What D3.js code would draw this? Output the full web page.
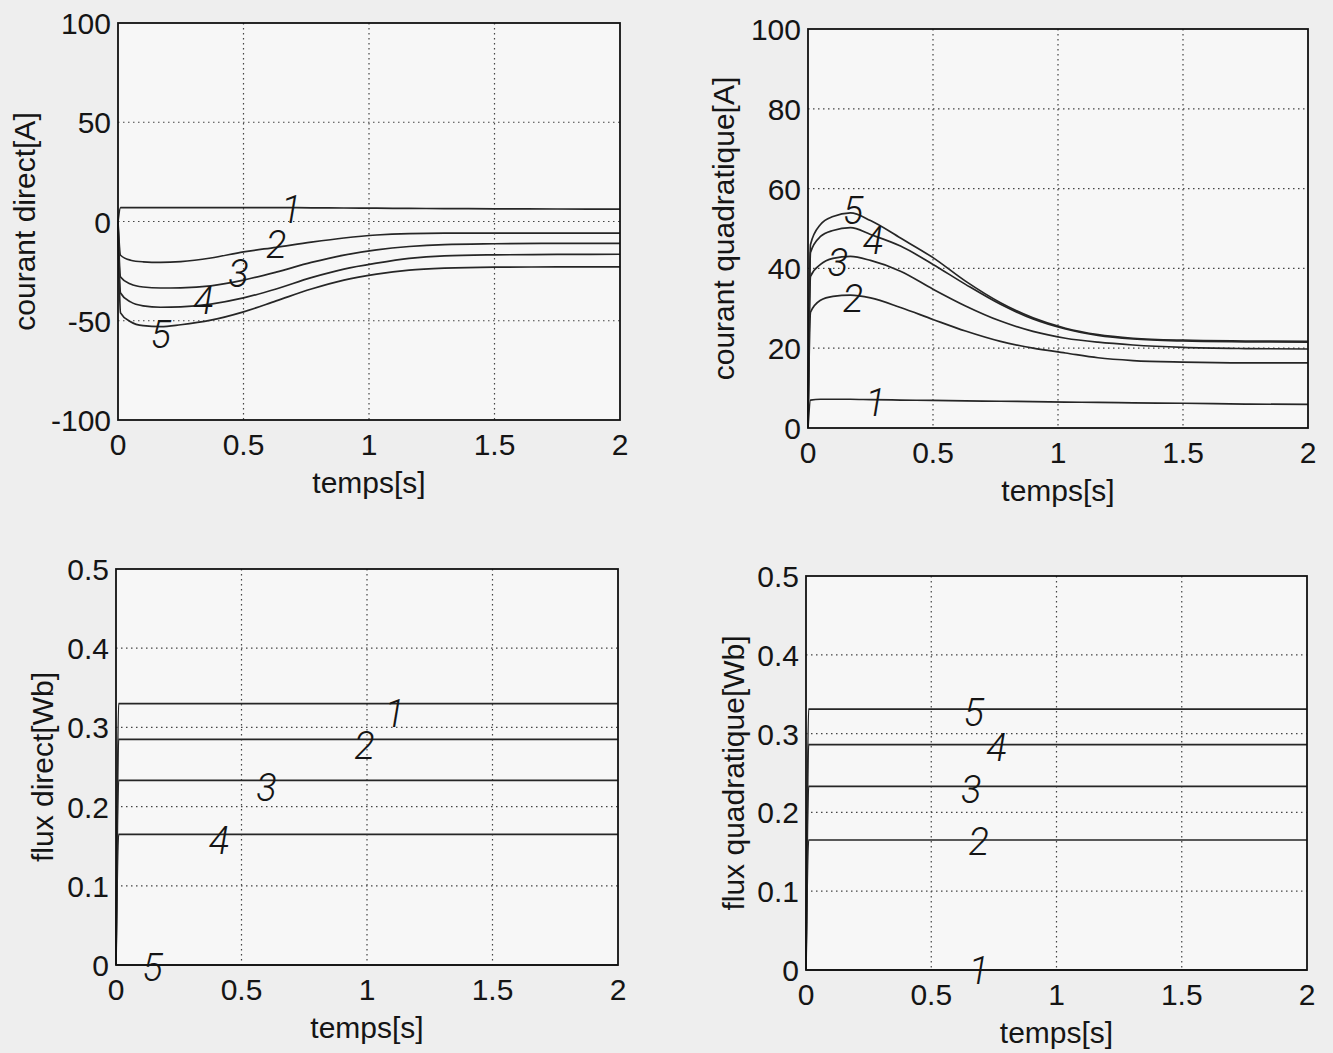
<!DOCTYPE html>
<html>
<head>
<meta charset="utf-8">
<script src="https://cdn.jsdelivr.net/npm/d3@7/dist/d3.min.js"></script>
<style>
  body { margin: 0; background: #eeeeee; }
  svg text { font-family: "Liberation Sans", Arial, sans-serif; fill: #151515; }
</style>
</head>
<body>
<div id="figure"></div>
<script>
// Time samples [s]
var tCourant = [0, 0.01, 0.05, 0.1, 0.17, 0.25, 0.37, 0.5, 0.63, 0.77, 0.9, 1.03, 1.16, 1.3, 1.5, 1.75, 2];
var tFlux = [0, 0.01, 0.5, 1, 1.5, 2];

// courant direct [A], curves 1..5
var id1 = [0, 7, 7, 7, 7, 7, 7, 7, 7, 6.9, 6.8, 6.7, 6.6, 6.5, 6.4, 6.3, 6.2];
var id2 = [0, -17, -19.5, -20.3, -20.6, -20.2, -18.4, -15.3, -13, -10.4, -8.3, -6.8, -6.1, -5.9, -5.9, -5.9, -5.9];
var id3 = [0, -28, -31.5, -33, -33.5, -33.4, -32.4, -29.5, -25.5, -20.6, -16.9, -14.3, -12.6, -11.6, -11.2, -11, -11];
var id4 = [0, -36, -40.5, -42.5, -43.2, -43, -41.6, -38.5, -34, -28.3, -24, -21, -18.6, -17.3, -16.8, -16.6, -16.5];
var id5 = [0, -46, -50.5, -52.5, -53, -52, -49.7, -45.5, -40, -34, -29.5, -26.5, -24.5, -23.5, -23, -22.9, -22.9];

// courant quadratique [A], curves 1..5
var iq1 = [0, 7, 7.2, 7.2, 7.2, 7.1, 7, 6.9, 6.8, 6.7, 6.6, 6.5, 6.4, 6.3, 6.2, 6, 5.9];
var iq2 = [0, 29, 32, 33, 33.3, 32.6, 30.2, 27.2, 24.3, 21.7, 20, 18.8, 17.6, 16.9, 16.5, 16.3, 16.3];
var iq3 = [0, 38, 41, 42.5, 43, 42, 39.3, 34.8, 30.6, 26.8, 24.2, 22.5, 21.5, 20.8, 20.2, 19.9, 19.8];
var iq4 = [0, 44, 48, 49.5, 50.2, 48.5, 45.6, 41, 36, 31, 27.3, 24.8, 23.2, 22.3, 21.8, 21.6, 21.5];
var iq5 = [0, 46, 51, 53, 53.9, 52, 47.6, 42.7, 36.8, 31.4, 27.6, 25, 23.4, 22.5, 22, 21.8, 21.7];

// flux direct [Wb], curves 1..5
var phid1 = [0, 0.33, 0.33, 0.33, 0.33, 0.33];
var phid2 = [0, 0.285, 0.285, 0.285, 0.285, 0.285];
var phid3 = [0, 0.233, 0.233, 0.233, 0.233, 0.233];
var phid4 = [0, 0.165, 0.165, 0.165, 0.165, 0.165];
var phid5 = [0, 0, 0, 0, 0, 0];

// flux quadratique [Wb], curves 1..5
var phiq1 = [0, 0, 0, 0, 0, 0];
var phiq2 = [0, 0.165, 0.165, 0.165, 0.165, 0.165];
var phiq3 = [0, 0.233, 0.233, 0.233, 0.233, 0.233];
var phiq4 = [0, 0.286, 0.286, 0.286, 0.286, 0.286];
var phiq5 = [0, 0.331, 0.331, 0.331, 0.331, 0.331];

// ticks
var xTicks = [0, 0.5, 1, 1.5, 2];
var idTicks = [-100, -50, 0, 50, 100];
var iqTicks = [0, 20, 40, 60, 80, 100];
var fluxTicks = [0, 0.1, 0.2, 0.3, 0.4, 0.5];

// hand written curve numbers (data coordinates: time, value)
var curveNames = ["1", "2", "3", "4", "5"];
var idLabT = [0.69, 0.63, 0.48, 0.34, 0.17];
var idLabV = [6, -11.5, -26, -39.5, -57];
var iqLabT = [0.27, 0.18, 0.12, 0.26, 0.18];
var iqLabV = [6.5, 32.5, 41.5, 47, 54.5];
var phidLabT = [1.11, 0.99, 0.6, 0.41, 0.145];
var phidLabV = [0.318, 0.278, 0.224, 0.158, -0.003];
var phiqLabT = [0.69, 0.69, 0.66, 0.76, 0.67];
var phiqLabV = [0.0, 0.163, 0.229, 0.282, 0.327];

var svg = d3.select("#figure")
    .append("svg")
    .attr("width", 1333)
    .attr("height", 1053);

function drawPanel(box, yDomain, yTicks, yLabel, times, series, labT, labV) {
    var x = d3.scaleLinear().domain([0, 2]).range([box.x0, box.x1]);
    var y = d3.scaleLinear().domain(yDomain).range([box.y1, box.y0]);
    var g = svg.append("g");

    // plot area
    g.append("rect")
        .attr("x", box.x0).attr("y", box.y0)
        .attr("width", box.x1 - box.x0).attr("height", box.y1 - box.y0)
        .attr("fill", "#f7f7f7");

    // dotted grid
    g.selectAll(".vgrid")
        .data(xTicks.slice(1, -1))
        .enter().append("line")
        .attr("x1", d => x(d)).attr("x2", d => x(d))
        .attr("y1", box.y0).attr("y2", box.y1)
        .attr("stroke", "#444").attr("stroke-width", 1.2)
        .attr("stroke-dasharray", "1.5,3.5");
    g.selectAll(".hgrid")
        .data(yTicks.slice(1, -1))
        .enter().append("line")
        .attr("x1", box.x0).attr("x2", box.x1)
        .attr("y1", d => y(d)).attr("y2", d => y(d))
        .attr("stroke", "#444").attr("stroke-width", 1.2)
        .attr("stroke-dasharray", "1.5,3.5");

    // curves
    var line = d3.line()
        .x((d, i) => x(times[i]))
        .y(d => y(d))
        .curve(d3.curveMonotoneX);
    g.selectAll(".curve")
        .data(series)
        .enter().append("path")
        .attr("d", d => line(d))
        .attr("fill", "none")
        .attr("stroke", "#262626")
        .attr("stroke-width", 1.7);

    // frame
    g.append("rect")
        .attr("x", box.x0).attr("y", box.y0)
        .attr("width", box.x1 - box.x0).attr("height", box.y1 - box.y0)
        .attr("fill", "none")
        .attr("stroke", "#111").attr("stroke-width", 1.8);

    // tick labels
    g.selectAll(".xtick")
        .data(xTicks)
        .enter().append("text")
        .attr("x", d => x(d))
        .attr("y", box.y1 + 35)
        .attr("text-anchor", "middle")
        .style("font-size", "30px")
        .text(d => String(d));
    g.selectAll(".ytick")
        .data(yTicks)
        .enter().append("text")
        .attr("x", box.x0 - 7)
        .attr("y", d => y(d) + 11)
        .attr("text-anchor", "end")
        .style("font-size", "30px")
        .text(d => String(d));

    // axis labels
    g.append("text")
        .attr("x", (box.x0 + box.x1) / 2)
        .attr("y", box.y1 + 73)
        .attr("text-anchor", "middle")
        .style("font-size", "30px")
        .text("temps[s]");
    g.append("text")
        .attr("transform", "translate(" + (box.x0 - box.ylab) + "," + ((box.y0 + box.y1) / 2) + ") rotate(-90)")
        .attr("text-anchor", "middle")
        .style("font-size", "30px")
        .text(yLabel);

    // curve numbers
    g.selectAll(".num")
        .data(curveNames)
        .enter().append("text")
        .attr("x", (d, i) => x(labT[i]))
        .attr("y", (d, i) => y(labV[i]))
        .attr("dy", "0.36em")
        .attr("text-anchor", "middle")
        .style("font-family", "Roboto, 'Liberation Sans', sans-serif")
        .style("font-weight", 300)
        .style("font-style", "italic")
        .style("font-size", "38px")
        .text(d => d);
}

drawPanel({ x0: 118, x1: 620, y0: 23, y1: 420, ylab: 83 }, [-100, 100], idTicks,
    "courant direct[A]", tCourant, [id1, id2, id3, id4, id5], idLabT, idLabV);
drawPanel({ x0: 808, x1: 1308, y0: 29, y1: 428, ylab: 74 }, [0, 100], iqTicks,
    "courant quadratique[A]", tCourant, [iq1, iq2, iq3, iq4, iq5], iqLabT, iqLabV);
drawPanel({ x0: 116, x1: 618, y0: 569, y1: 965, ylab: 63 }, [0, 0.5], fluxTicks,
    "flux direct[Wb]", tFlux, [phid1, phid2, phid3, phid4, phid5], phidLabT, phidLabV);
drawPanel({ x0: 806, x1: 1307, y0: 576, y1: 970, ylab: 62 }, [0, 0.5], fluxTicks,
    "flux quadratique[Wb]", tFlux, [phiq1, phiq2, phiq3, phiq4, phiq5], phiqLabT, phiqLabV);
</script>
</body>
</html>
